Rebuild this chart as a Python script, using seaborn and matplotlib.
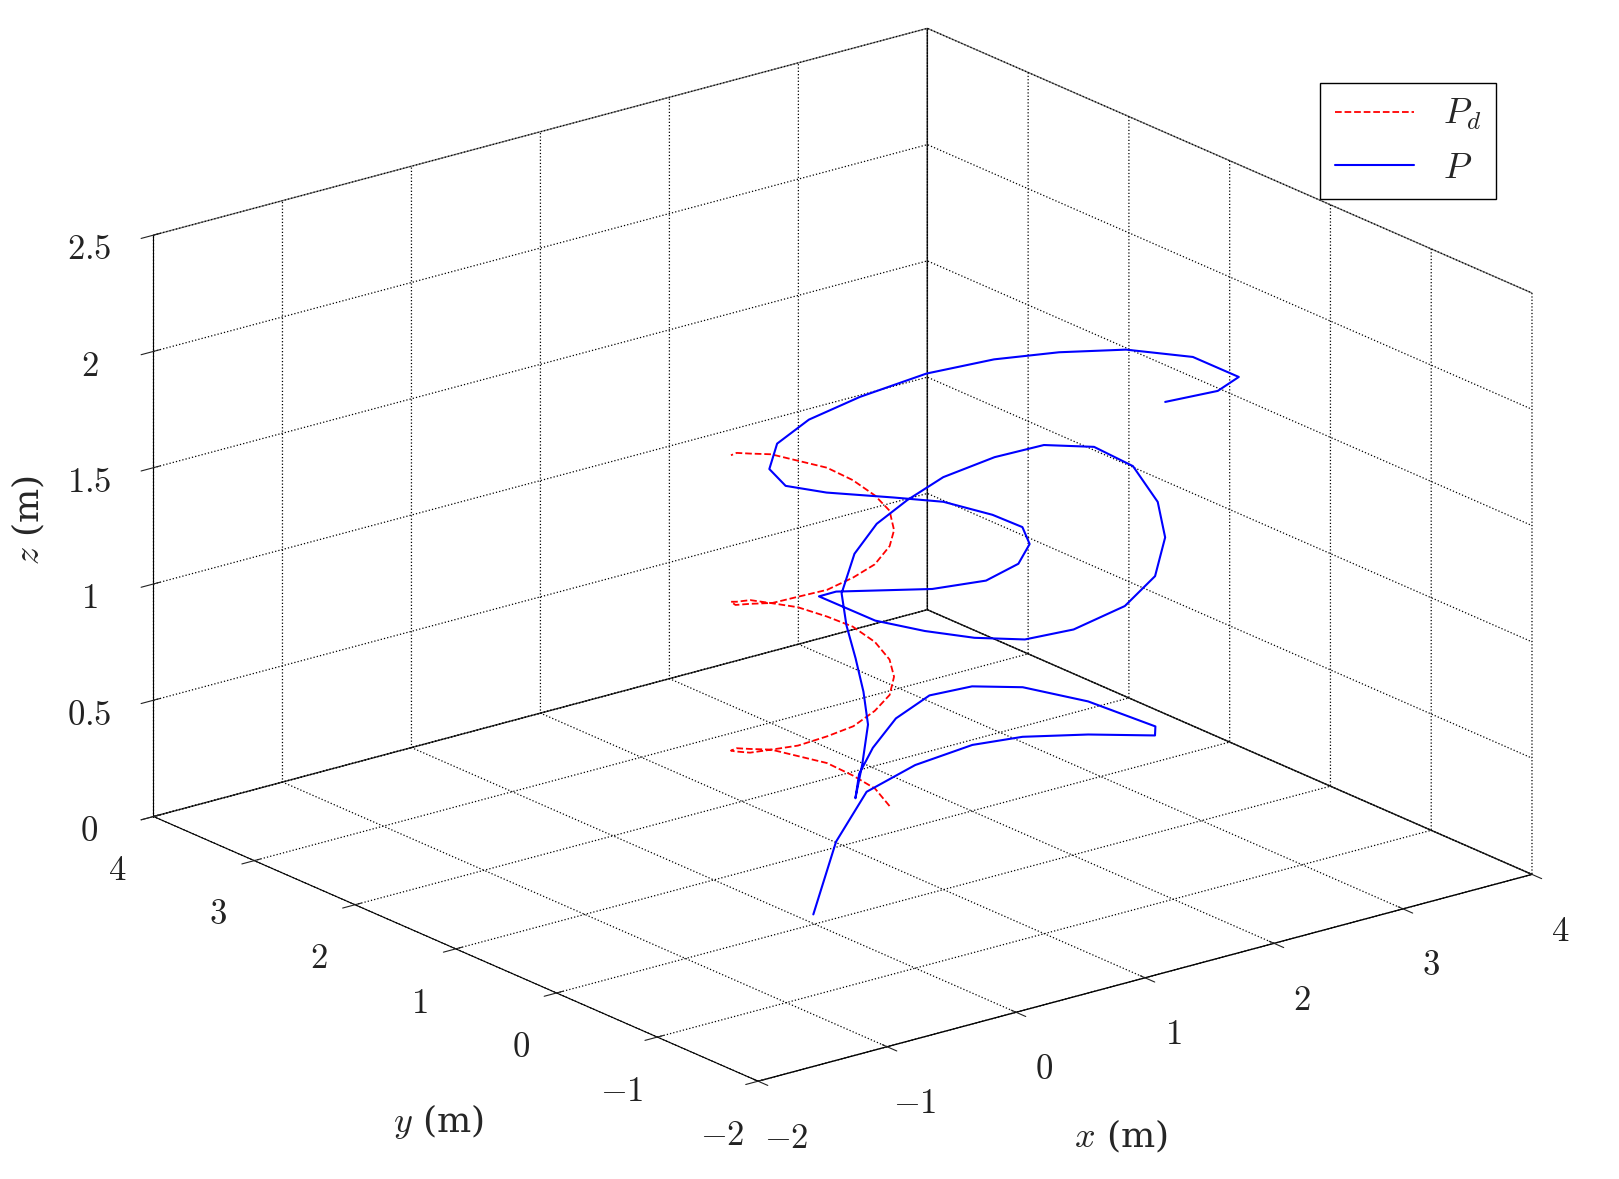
import matplotlib
matplotlib.use("Agg")
import matplotlib.pyplot as plt
import seaborn as sns

sns.set_style("white")
plt.rcParams['font.family'] = ['DejaVu Serif']
plt.rcParams['mathtext.fontset'] = 'cm'

_xc = [1.48,1.50,1.46,1.37,1.23,1.07,0.90,0.74,0.61,0.52,0.50,0.54,0.63,0.77,0.93,1.10,1.27,1.39]
_yc = [1.15,1.32,1.49,1.63,1.74,1.80,1.79,1.72,1.61,1.45,1.28,1.11,0.97,0.86,0.805,0.81,0.88,0.99]
pd_x = _xc + _xc + _xc[:9]
pd_y = _yc + _yc + _yc[:9]
pd_z = [0.07,0.11,0.14,0.18,0.21,0.25,0.28,0.32,0.35,0.39,0.42,0.46,0.49,0.53,0.56,0.60,0.63,0.67,0.70,
        0.74,0.78,0.81,0.85,0.88,0.92,0.95,0.99,1.02,1.06,1.09,1.13,1.16,1.20,1.23,1.27,1.30,1.34,1.37,
        1.41,1.45,1.48,1.52,1.55,1.59,1.62]

p_x = [0.10,0.37,0.81,1.21,1.63,1.91,2.20,2.46,2.51,2.41,2.20,1.94,1.61,1.17,0.71,0.33,0.02,
       0.30,0.61,0.77,0.92,1.06,1.21,1.63,1.99,2.32,2.67,3.06,3.38,3.55,3.50,3.20,2.82,2.32,1.82,
       1.29,0.92,0.67,0.48,0.33,0.30,0.41,0.85,1.15,1.44,1.66,1.76,1.70,1.53,1.26,0.89,0.69,0.72,
       0.96,1.30,1.72,2.22,2.65,2.99,3.29,3.48,3.43,3.15,2.75]
p_y = [0.14,0.26,0.52,0.55,0.52,0.38,0.10,-0.23,-0.17,0.37,0.75,0.92,0.92,0.69,0.33,-0.02,-0.38,
       -0.09,0.25,0.50,0.77,1.04,1.28,1.69,1.93,2.05,2.14,2.13,2.05,1.77,1.32,0.69,0.13,-0.41,-0.75,
       -0.92,-0.91,-0.73,-0.48,-0.18,0.34,0.31,-0.08,-0.23,-0.18,-0.01,0.19,0.41,0.68,0.83,1.02,1.17,1.37,
       1.60,1.72,1.75,1.73,1.61,1.40,1.12,0.70,0.18,0.03,0.04]
p_z = [0.00,0.25,0.35,0.40,0.43,0.45,0.47,0.49,0.51,0.53,0.55,0.56,0.57,0.58,0.59,0.60,0.61,
       0.66,0.72,0.79,0.86,0.93,1.00,1.03,1.06,1.09,1.12,1.15,1.17,1.19,1.20,1.21,1.22,1.23,1.24,
       1.25,1.26,1.27,1.28,1.29,1.30,1.31,1.33,1.35,1.37,1.39,1.41,1.43,1.46,1.49,1.53,1.56,1.59,
       1.62,1.65,1.68,1.71,1.73,1.75,1.77,1.79,1.81,1.82,1.83]

xy_ticks = [-2, -1, 0, 1, 2, 3, 4]
xy_labels = ['$-2$', '$-1$', '$0$', '$1$', '$2$', '$3$', '$4$']
z_ticks = [0, 0.5, 1, 1.5, 2, 2.5]
z_labels = ['$0$', '$0.5$', '$1$', '$1.5$', '$2$', '$2.5$']

fig = plt.figure(figsize=(16.19, 11.79), dpi=100)
ax = fig.add_subplot(111, projection='3d', proj_type='ortho')
l1, = ax.plot(pd_x, pd_y, pd_z, color='red', ls='--', lw=1.3, label='$P_d$')
l2, = ax.plot(p_x, p_y, p_z, color='blue', ls='-', lw=1.5, label='$P$')
ax.set_xlim(-2, 4); ax.set_ylim(-2, 4); ax.set_zlim(0, 2.5)
ax.set_xticks(xy_ticks); ax.set_xticklabels(xy_labels)
ax.set_yticks(xy_ticks); ax.set_yticklabels(xy_labels)
ax.set_zticks(z_ticks); ax.set_zticklabels(z_labels)
ax.view_init(elev=20, azim=-128)
ax.set_box_aspect((1.0, 1.0, 0.63), zoom=1.17)
for a in (ax.xaxis, ax.yaxis, ax.zaxis):
    a.pane.fill = False
    a.pane.set_edgecolor('black')
    a._axinfo['grid'].update(color='black', linestyle=':', linewidth=0.9)
    a.line.set_color('black')
ax.tick_params(labelsize=25, colors='#222222')
ax.tick_params(axis='x', pad=14)
ax.tick_params(axis='y', pad=14)
ax.tick_params(axis='z', pad=14)
ax.zaxis.set_rotate_label(False)
ax.set_zlabel('$z$ (m)', fontsize=26, labelpad=22, rotation=90)
fig.text(0.692, 0.036, '$x$ (m)', fontsize=26, ha='center', va='center')
fig.text(0.271, 0.049, '$y$ (m)', fontsize=26, ha='center', va='center')
fig.legend(handles=[l1, l2], loc='upper right', fontsize=26, frameon=True, fancybox=False,
           edgecolor='black', framealpha=1, handlelength=2.2,
           bbox_to_anchor=(0.935, 0.945), bbox_transform=fig.transFigure)
plt.subplots_adjust(left=-0.02, right=1.04, bottom=-0.02, top=1.05)
fig.savefig('out.png', dpi=100)
